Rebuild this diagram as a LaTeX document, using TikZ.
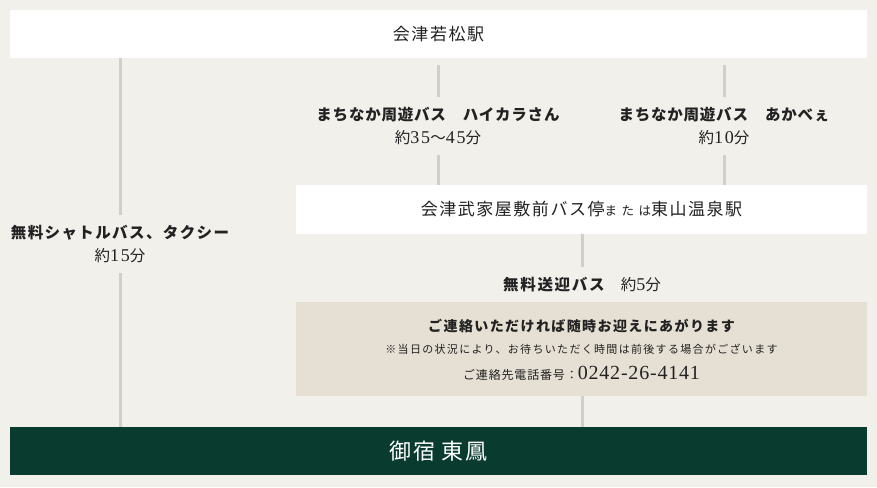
\documentclass[tikz,border=0pt]{standalone}
\usepackage{fontspec}
\setmainfont{Noto Sans CJK JP}
\newfontfamily\numfont{Liberation Serif}
\newcommand\lsp[1]{\addfontfeatures{LetterSpace=#1}}
\newcommand\numtxt[1]{{\numfont\fontsize{18}{20}\selectfont\addfontfeatures{LetterSpace=10}#1}}
\definecolor{bg}{HTML}{F2F0EB}
\definecolor{beige}{HTML}{E6DFD3}
\definecolor{dkgreen}{HTML}{0A3B2F}
\definecolor{ln}{HTML}{CFCFCF}
\definecolor{txt}{HTML}{222222}
\begin{document}
\begin{tikzpicture}[x=1pt,y=-1pt,
  box/.style={fill=white, inner sep=0pt, minimum width=857pt, minimum height=48pt, text=txt, font=\fontsize{17}{19}\selectfont\lsp{9}},
  conn/.style={draw=ln, line width=3pt},
  lbl/.style={align=center, text=txt, inner sep=0pt, font=\fontsize{15.5}{23}\selectfont\lsp{5}},
  small/.style={text=txt, inner sep=0pt}]
\fill[bg] (0,0) rectangle (877,487);
\useasboundingbox (0,0) rectangle (877,487);
% boxes
\node[box] (stn) at (438.5,34) {会津若松駅};
\node[box, minimum width=571pt, minimum height=49pt] (stop) at (581.5,209.5) {会津武家屋敷前バス停{\fontsize{12.5}{13}\selectfont\lsp{36}または}東山温泉駅};
\node[fill=beige, inner sep=0pt, minimum width=571pt, minimum height=94pt] (info) at (581.5,349) {};
\node[small, font=\bfseries\fontsize{14}{17}\selectfont\lsp{10}] (info1) at (581.5,326) {ご連絡いただければ随時お迎えにあがります};
\node[small, font=\fontsize{11}{13}\selectfont\lsp{12}] (info2) at (581.5,349) {※当日の状況により、お待ちいただく時間は前後する場合がございます};
\node[small, font=\fontsize{12}{15}\selectfont\lsp{7}] (info3) at (581.5,373) {ご連絡先電話番号：{\numfont\fontsize{20}{22}\selectfont\lsp{4}0242-26-4141}};
\node[fill=dkgreen, inner sep=0pt, minimum width=857pt, minimum height=48pt, text=white, font=\fontsize{22}{24}\selectfont\lsp{7}] (hotel) at (438.5,451) {御宿 東鳳};
% labels
\node[lbl] (shuttle) at (120,244) {{\bfseries\lsp{9}無料シャトルバス、タクシー}\\約\numtxt{15}分};
\node[lbl] (haikara) at (438,126) {{\bfseries\lsp{5}まちなか周遊バス　ハイカラさん}\\約\numtxt{35}〜\numtxt{45}分};
\node[lbl] (akabee) at (724,126) {{\bfseries\lsp{5}まちなか周遊バス　あかべぇ}\\約\numtxt{10}分};
\node[lbl] (bus5) at (582,285) {{\bfseries\lsp{11}無料送迎バス}　約\numtxt{5}分};
% connectors
\draw[conn, shorten >=10pt] (stn.south -| shuttle.north) -- (shuttle.north);
\draw[conn, shorten <=10pt] (shuttle.south) -- (shuttle.south |- hotel.north);
\draw[conn, shorten <=7pt, shorten >=10pt] (stn.south -| haikara.north) -- (haikara.north);
\draw[conn, shorten <=10pt] (haikara.south) -- (haikara.south |- stop.north);
\draw[conn, shorten <=7pt, shorten >=10pt] (stn.south -| akabee.north) -- (akabee.north);
\draw[conn, shorten <=10pt] (akabee.south) -- (akabee.south |- stop.north);
\draw[conn, shorten >=10pt] (stop.south -| bus5.north) -- (bus5.north);
\draw[conn] (info.south -| bus5.north) -- (bus5.north |- hotel.north);
\end{tikzpicture}
\end{document}
